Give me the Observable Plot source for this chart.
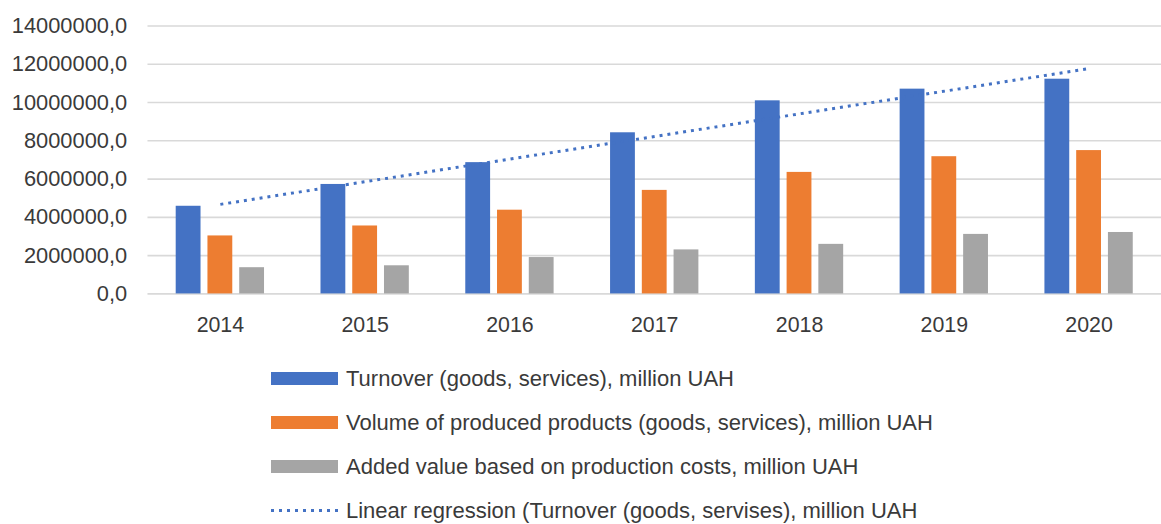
<!DOCTYPE html>
<html>
<head>
<meta charset="utf-8">
<script src="https://cdn.jsdelivr.net/npm/d3@7"></script>
<script src="https://cdn.jsdelivr.net/npm/@observablehq/plot@0.6"></script>
<style>
  html, body { margin: 0; padding: 0; background: #fff; overflow: hidden; }
  body { width: 1161px; height: 524px; font-family: "Liberation Sans", Arial, sans-serif; color: #3a3a3a; }
  #chart { width: 1161px; height: 350px; overflow: hidden; }
  #legend { position: relative; padding-top: 6.5px; }
  .row { display: flex; align-items: center; height: 44px; }
  .sw { margin-left: 271px; width: 67px; height: 13px; flex: none; }
  .lbl { margin-left: 8px; font-size: 22px; line-height: 24px; white-space: nowrap; }
</style>
</head>
<body>
<div id="chart"></div>
<div id="legend"></div>
<script>
const years = [2014, 2015, 2016, 2017, 2018, 2019, 2020];
const turnover   = [4580000, 5720000, 6860000, 8420000, 10090000, 10700000, 11220000];
const production = [3030000, 3550000, 4375000, 5410000, 6350000, 7170000, 7490000];
const addedValue = [1370000, 1470000, 1900000, 2300000, 2590000, 3110000, 3210000];
const yTicks = [0, 2000000, 4000000, 6000000, 8000000, 10000000, 12000000, 14000000];
const seriesNames = [
  "Turnover (goods, services), million UAH",
  "Volume of produced products (goods, services), million UAH",
  "Added value based on production costs, million UAH"
];
const trendName = "Linear regression (Turnover (goods, servises), million UAH";
const seriesColors = ["#4472c4", "#ed7d31", "#a5a5a5"];
const seriesValues = [turnover, production, addedValue];

const fmt = d => d.toFixed(1).replace(".", ",");

const barMarks = seriesValues.map((vals, k) => {
  const off = (k - 1) * 32;
  const insetLeft = 60.45 + off;
  return Plot.rectY(years, {
    x1: d => d - 0.5,
    x2: d => d + 0.5,
    y: (d, i) => vals[i],
    fill: seriesColors[k],
    insetLeft: insetLeft,
    insetRight: 120.9 - insetLeft
  });
});

const chart = Plot.plot({
  width: 1170,
  height: 350,
  marginLeft: 148.6,
  marginRight: 0,
  marginTop: 25.7,
  marginBottom: 54.3,
  style: { fontFamily: "'Liberation Sans', Arial, sans-serif", fontSize: "22px", color: "#3a3a3a", background: "#fff", overflow: "visible" },
  x: { domain: [2013.5, 2020.5] },
  y: { domain: [0, 14000000] },
  marks: [
    Plot.gridY(yTicks, { stroke: "#d9d9d9", strokeOpacity: 1, strokeWidth: 1.6 }),
    ...barMarks,
    Plot.linearRegressionY(years, {
      x: d => d,
      y: (d, i) => turnover[i],
      ci: 0,
      stroke: "#4472c4",
      strokeWidth: 3,
      strokeDasharray: "3,5",
      strokeLinecap: "butt"
    }),
    Plot.axisY(yTicks, { tickSize: 0, tickPadding: 21, tickFormat: fmt, label: null }),
    Plot.axisX(years, { tickSize: 0, tickPadding: 23, tickFormat: d => String(d), label: null, fontSize: 21.5 })
  ]
});
document.getElementById("chart").appendChild(chart);

const legend = document.getElementById("legend");
seriesNames.forEach((name, k) => {
  const row = document.createElement("div");
  row.className = "row";
  const sw = document.createElement("div");
  sw.className = "sw";
  sw.style.background = seriesColors[k];
  const lbl = document.createElement("span");
  lbl.className = "lbl";
  lbl.textContent = name;
  row.appendChild(sw);
  row.appendChild(lbl);
  legend.appendChild(row);
});
{
  const row = document.createElement("div");
  row.className = "row";
  const ns = "http://www.w3.org/2000/svg";
  const svg = document.createElementNS(ns, "svg");
  svg.setAttribute("width", 67);
  svg.setAttribute("height", 13);
  svg.style.marginLeft = "271px";
  svg.style.flex = "none";
  const line = document.createElementNS(ns, "line");
  line.setAttribute("x1", 0); line.setAttribute("x2", 67);
  line.setAttribute("y1", 6.5); line.setAttribute("y2", 6.5);
  line.setAttribute("stroke", "#4472c4");
  line.setAttribute("stroke-width", 3);
  line.setAttribute("stroke-dasharray", "3,5");
  svg.appendChild(line);
  const lbl = document.createElement("span");
  lbl.className = "lbl";
  lbl.textContent = trendName;
  row.appendChild(svg);
  row.appendChild(lbl);
  legend.appendChild(row);
}
</script>
</body>
</html>
